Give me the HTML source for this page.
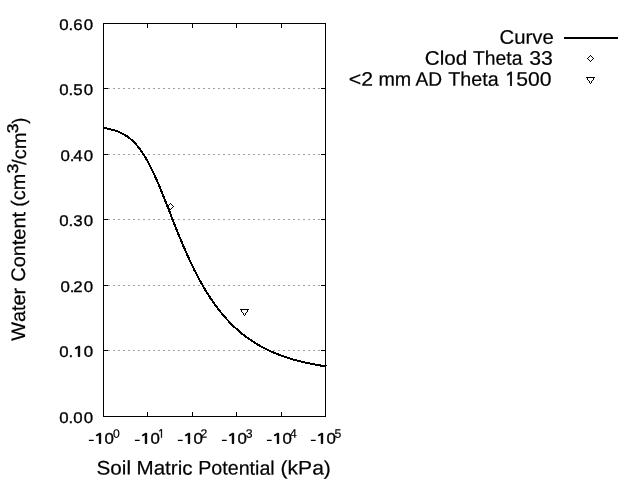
<!DOCTYPE html>
<html lang="en"><head><meta charset="utf-8"><title>Water Retention Curve</title>
<style>html,body{margin:0;padding:0;background:#fff;overflow:hidden}svg{display:block;will-change:transform}text{font-family:"Liberation Sans", Arial, Helvetica, sans-serif;fill:#000;font-kerning:none}</style></head><body>
<svg width="640" height="480" viewBox="0 0 640 480">
<rect width="640" height="480" fill="#fff"/>
<g stroke="#a0a0a0" stroke-width="1" stroke-dasharray="2 3" shape-rendering="crispEdges">
<line x1="103" y1="88.5" x2="326" y2="88.5"/>
<line x1="103" y1="154.5" x2="326" y2="154.5"/>
<line x1="103" y1="219.5" x2="326" y2="219.5"/>
<line x1="103" y1="285.5" x2="326" y2="285.5"/>
<line x1="103" y1="350.5" x2="326" y2="350.5"/>
</g>
<g stroke="#000" stroke-width="1" fill="none" shape-rendering="crispEdges">
<rect x="103.5" y="23.5" width="222" height="393"/>
<line x1="103" y1="23.5" x2="108" y2="23.5"/><line x1="321" y1="23.5" x2="326" y2="23.5"/>
<line x1="103" y1="88.5" x2="108" y2="88.5"/><line x1="321" y1="88.5" x2="326" y2="88.5"/>
<line x1="103" y1="154.5" x2="108" y2="154.5"/><line x1="321" y1="154.5" x2="326" y2="154.5"/>
<line x1="103" y1="219.5" x2="108" y2="219.5"/><line x1="321" y1="219.5" x2="326" y2="219.5"/>
<line x1="103" y1="285.5" x2="108" y2="285.5"/><line x1="321" y1="285.5" x2="326" y2="285.5"/>
<line x1="103" y1="350.5" x2="108" y2="350.5"/><line x1="321" y1="350.5" x2="326" y2="350.5"/>
<line x1="103" y1="416.5" x2="108" y2="416.5"/><line x1="321" y1="416.5" x2="326" y2="416.5"/>
<line x1="103.5" y1="23" x2="103.5" y2="28"/><line x1="103.5" y1="412" x2="103.5" y2="417"/>
<line x1="147.5" y1="23" x2="147.5" y2="28"/><line x1="147.5" y1="412" x2="147.5" y2="417"/>
<line x1="192.5" y1="23" x2="192.5" y2="28"/><line x1="192.5" y1="412" x2="192.5" y2="417"/>
<line x1="236.5" y1="23" x2="236.5" y2="28"/><line x1="236.5" y1="412" x2="236.5" y2="417"/>
<line x1="281.5" y1="23" x2="281.5" y2="28"/><line x1="281.5" y1="412" x2="281.5" y2="417"/>
<line x1="325.5" y1="23" x2="325.5" y2="28"/><line x1="325.5" y1="412" x2="325.5" y2="417"/>
</g>
<polyline points="103.5,127.98 104.5,128.13 105.5,128.30 106.5,128.47 107.5,128.66 108.5,128.86 109.5,129.07 110.5,129.30 111.5,129.55 112.5,129.81 113.5,130.09 114.5,130.39 115.5,130.71 116.5,131.05 117.5,131.42 118.5,131.81 119.5,132.22 120.5,132.66 121.5,133.14 122.5,133.64 123.5,134.18 124.5,134.74 125.5,135.35 126.5,135.99 127.5,136.67 128.5,137.40 129.5,138.16 130.5,138.97 131.5,139.83 132.5,140.74 133.5,141.69 134.5,142.70 135.5,143.76 136.5,144.88 137.5,146.05 138.5,147.28 139.5,148.57 140.5,149.91 141.5,151.32 142.5,152.79 143.5,154.32 144.5,155.92 145.5,157.57 146.5,159.29 147.5,161.07 148.5,162.91 149.5,164.80 150.5,166.76 151.5,168.77 152.5,170.84 153.5,172.95 154.5,175.12 155.5,177.34 156.5,179.60 157.5,181.90 158.5,184.24 159.5,186.62 160.5,189.03 161.5,191.47 162.5,193.93 163.5,196.42 164.5,198.93 165.5,201.45 166.5,203.99 167.5,206.54 168.5,209.09 169.5,211.65 170.5,214.20 171.5,216.76 172.5,219.30 173.5,221.84 174.5,224.37 175.5,226.89 176.5,229.39 177.5,231.88 178.5,234.34 179.5,236.79 180.5,239.21 181.5,241.61 182.5,243.99 183.5,246.34 184.5,248.66 185.5,250.96 186.5,253.22 187.5,255.46 188.5,257.66 189.5,259.84 190.5,261.98 191.5,264.09 192.5,266.17 193.5,268.22 194.5,270.24 195.5,272.22 196.5,274.17 197.5,276.09 198.5,277.98 199.5,279.83 200.5,281.66 201.5,283.45 202.5,285.21 203.5,286.94 204.5,288.63 205.5,290.30 206.5,291.94 207.5,293.55 208.5,295.12 209.5,296.67 210.5,298.19 211.5,299.68 212.5,301.15 213.5,302.58 214.5,303.99 215.5,305.37 216.5,306.73 217.5,308.06 218.5,309.36 219.5,310.64 220.5,311.89 221.5,313.12 222.5,314.33 223.5,315.51 224.5,316.67 225.5,317.80 226.5,318.92 227.5,320.01 228.5,321.08 229.5,322.13 230.5,323.16 231.5,324.17 232.5,325.16 233.5,326.13 234.5,327.08 235.5,328.01 236.5,328.92 237.5,329.81 238.5,330.69 239.5,331.55 240.5,332.39 241.5,333.22 242.5,334.03 243.5,334.82 244.5,335.60 245.5,336.36 246.5,337.11 247.5,337.84 248.5,338.56 249.5,339.26 250.5,339.95 251.5,340.63 252.5,341.29 253.5,341.94 254.5,342.57 255.5,343.19 256.5,343.81 257.5,344.40 258.5,344.99 259.5,345.56 260.5,346.13 261.5,346.68 262.5,347.22 263.5,347.75 264.5,348.27 265.5,348.78 266.5,349.28 267.5,349.77 268.5,350.25 269.5,350.72 270.5,351.18 271.5,351.63 272.5,352.07 273.5,352.50 274.5,352.93 275.5,353.34 276.5,353.75 277.5,354.15 278.5,354.54 279.5,354.92 280.5,355.30 281.5,355.67 282.5,356.03 283.5,356.38 284.5,356.73 285.5,357.07 286.5,357.40 287.5,357.73 288.5,358.05 289.5,358.36 290.5,358.67 291.5,358.97 292.5,359.27 293.5,359.55 294.5,359.84 295.5,360.12 296.5,360.39 297.5,360.65 298.5,360.92 299.5,361.17 300.5,361.42 301.5,361.67 302.5,361.91 303.5,362.15 304.5,362.38 305.5,362.60 306.5,362.83 307.5,363.04 308.5,363.26 309.5,363.47 310.5,363.67 311.5,363.87 312.5,364.07 313.5,364.26 314.5,364.45 315.5,364.64 316.5,364.82 317.5,364.99 318.5,365.17 319.5,365.34 320.5,365.51 321.5,365.67 322.5,365.83 323.5,365.99 324.5,366.14 325.5,366.30 326.5,366.44 326.5,366.44" fill="none" stroke="#000" stroke-width="2" shape-rendering="crispEdges"/>
<g stroke="#000" stroke-width="1" fill="none" shape-rendering="crispEdges">
<polygon points="167.5,206.5 170.5,203.5 173.5,206.5 170.5,209.5"/>
<polygon points="240.5,309.5 248.5,309.5 244.5,315.5"/>
<polygon points="587.5,58.5 590.5,55.5 593.5,58.5 590.5,61.5"/>
<polygon points="586.5,77.5 594.5,77.5 590.5,83.5"/>
</g>
<line x1="564" y1="38" x2="618" y2="38" stroke="#000" stroke-width="2" shape-rendering="crispEdges"/>
<text transform="translate(0,422.85) scale(1.080,1) rotate(0.05)" font-size="15.55" stroke="#000" stroke-width="0.35" x="54.95 63.53 67.77 77.49">0.00</text>
<g><text transform="translate(0,356.85) scale(1.080,1) rotate(0.05)" font-size="15.55" stroke="#000" stroke-width="0.35" x="54.95 63.53">0.</text><text transform="translate(72.73,356.55) scale(1.350,1) rotate(0.05)" style="font-family:NanumGothic,'Liberation Sans',sans-serif" font-size="13.80" stroke="#000" stroke-width="0.80" stroke-linejoin="round">1</text><text transform="translate(83.69,356.85) scale(1.080,1) rotate(0.05)" font-size="15.55" stroke="#000" stroke-width="0.35">0</text></g>
<text transform="translate(0,291.85) scale(1.080,1) rotate(0.05)" font-size="15.55" stroke="#000" stroke-width="0.35" x="55.97 64.55 67.77 77.49">0.20</text>
<text transform="translate(0,225.85) scale(1.080,1) rotate(0.05)" font-size="15.55" stroke="#000" stroke-width="0.35" x="54.95 63.53 67.77 77.49">0.30</text>
<text transform="translate(0,160.85) scale(1.080,1) rotate(0.05)" font-size="15.55" stroke="#000" stroke-width="0.35" x="55.97 64.55 67.77 77.49">0.40</text>
<text transform="translate(0,94.85) scale(1.080,1) rotate(0.05)" font-size="15.55" stroke="#000" stroke-width="0.35" x="54.95 63.53 67.77 77.49">0.50</text>
<text transform="translate(0,29.85) scale(1.080,1) rotate(0.05)" font-size="15.55" stroke="#000" stroke-width="0.35" x="54.95 63.53 67.77 77.49">0.60</text>
<g><text transform="translate(88.02,444.55) scale(1.270,1) rotate(0.05)" font-size="15.55">-</text><text transform="translate(93.73,443.55) scale(1.350,1) rotate(0.05)" style="font-family:NanumGothic,'Liberation Sans',sans-serif" font-size="13.80" stroke="#000" stroke-width="0.80" stroke-linejoin="round">1</text><text transform="translate(104.49,443.85) scale(1.080,1) rotate(0.05)" font-size="15.55" stroke="#000" stroke-width="0.35">0</text><text transform="translate(112.92,437.8) scale(1.00,1) rotate(0.05)" font-size="12.2" stroke="#000" stroke-width="0.2">0</text></g>
<g><text transform="translate(134.02,444.55) scale(1.270,1) rotate(0.05)" font-size="15.55">-</text><text transform="translate(139.73,443.55) scale(1.350,1) rotate(0.05)" style="font-family:NanumGothic,'Liberation Sans',sans-serif" font-size="13.80" stroke="#000" stroke-width="0.80" stroke-linejoin="round">1</text><text transform="translate(150.49,443.85) scale(1.080,1) rotate(0.05)" font-size="15.55" stroke="#000" stroke-width="0.35">0</text><text transform="translate(157.82,437.60) scale(1.000,1) rotate(0.05)" style="font-family:NanumGothic,'Liberation Sans',sans-serif" font-size="11.20" stroke="#000" stroke-width="0.50" stroke-linejoin="round">1</text></g>
<g><text transform="translate(177.02,444.55) scale(1.270,1) rotate(0.05)" font-size="15.55">-</text><text transform="translate(182.73,443.55) scale(1.350,1) rotate(0.05)" style="font-family:NanumGothic,'Liberation Sans',sans-serif" font-size="13.80" stroke="#000" stroke-width="0.80" stroke-linejoin="round">1</text><text transform="translate(193.49,443.85) scale(1.080,1) rotate(0.05)" font-size="15.55" stroke="#000" stroke-width="0.35">0</text><text transform="translate(200.39,437.8) scale(1.00,1) rotate(0.05)" font-size="12.2" stroke="#000" stroke-width="0.2">2</text></g>
<g><text transform="translate(221.02,444.55) scale(1.270,1) rotate(0.05)" font-size="15.55">-</text><text transform="translate(226.73,443.55) scale(1.350,1) rotate(0.05)" style="font-family:NanumGothic,'Liberation Sans',sans-serif" font-size="13.80" stroke="#000" stroke-width="0.80" stroke-linejoin="round">1</text><text transform="translate(237.49,443.85) scale(1.080,1) rotate(0.05)" font-size="15.55" stroke="#000" stroke-width="0.35">0</text><text transform="translate(245.64,437.8) scale(1.00,1) rotate(0.05)" font-size="12.2" stroke="#000" stroke-width="0.2">3</text></g>
<g><text transform="translate(266.02,444.55) scale(1.270,1) rotate(0.05)" font-size="15.55">-</text><text transform="translate(271.73,443.55) scale(1.350,1) rotate(0.05)" style="font-family:NanumGothic,'Liberation Sans',sans-serif" font-size="13.80" stroke="#000" stroke-width="0.80" stroke-linejoin="round">1</text><text transform="translate(282.49,443.85) scale(1.080,1) rotate(0.05)" font-size="15.55" stroke="#000" stroke-width="0.35">0</text><text transform="translate(290.12,437.8) scale(1.00,1) rotate(0.05)" font-size="12.2" stroke="#000" stroke-width="0.2">4</text></g>
<g><text transform="translate(310.02,444.55) scale(1.270,1) rotate(0.05)" font-size="15.55">-</text><text transform="translate(315.73,443.55) scale(1.350,1) rotate(0.05)" style="font-family:NanumGothic,'Liberation Sans',sans-serif" font-size="13.80" stroke="#000" stroke-width="0.80" stroke-linejoin="round">1</text><text transform="translate(326.49,443.85) scale(1.080,1) rotate(0.05)" font-size="15.55" stroke="#000" stroke-width="0.35">0</text><text transform="translate(334.61,437.8) scale(1.00,1) rotate(0.05)" font-size="12.2" stroke="#000" stroke-width="0.2">5</text></g>
<text transform="translate(96.46,474.60) scale(1.0564,1) rotate(0.04)" font-size="19.6" stroke="#000" stroke-width="0.2">Soil</text>
<text transform="translate(136.51,474.60) scale(1.0502,1) rotate(0.04)" font-size="19.6" stroke="#000" stroke-width="0.2">Matric</text>
<text transform="translate(198.18,474.60) scale(1.0047,1) rotate(0.04)" font-size="19.6" stroke="#000" stroke-width="0.2">Potential</text>
<text transform="translate(280.59,474.60) scale(1.0744,1) rotate(0.04)" font-size="19.6" stroke="#000" stroke-width="0.2">(kPa)</text>
<g transform="rotate(-90)">
<text transform="translate(-340.84,25.10) scale(1.0152,1) rotate(0.04)" font-size="19.6" stroke="#000" stroke-width="0.2">Water</text>
<text transform="translate(-281.76,25.10) scale(1.0184,1) rotate(0.04)" font-size="19.6" stroke="#000" stroke-width="0.2">Content</text>
<g><text transform="translate(-206.83,25.10) scale(1.0150,1) rotate(0.04)" font-size="19.6" stroke="#000" stroke-width="0.2">(cm</text><text transform="translate(-173.47,17.90) scale(1.1394,1) rotate(0.04)" font-size="15.55" stroke="#000" stroke-width="0.35">3</text><text transform="translate(-164.90,25.90) scale(1.0238,1) rotate(0.04)" font-size="19.6" stroke="#000" stroke-width="0.2">/cm</text><text transform="translate(-133.37,17.90) scale(1.1258,1) rotate(0.04)" font-size="15.55" stroke="#000" stroke-width="0.35">3</text><text transform="translate(-123.81,25.90) scale(0.9237,1) rotate(0.04)" font-size="19.6" stroke="#000" stroke-width="0.2">)</text></g>
</g>
<text transform="translate(499.57,43.80) scale(1.0374,1) rotate(0.04)" font-size="19.6" stroke="#000" stroke-width="0.2">Curve</text>
<text transform="translate(424.85,64.80) scale(1.0538,1) rotate(0.04)" font-size="19.6" stroke="#000" stroke-width="0.2">Clod</text>
<text transform="translate(473.07,64.80) scale(0.9863,1) rotate(0.04)" font-size="19.6" stroke="#000" stroke-width="0.2">Theta</text>
<text transform="translate(529.19,64.80) scale(1.0845,1) rotate(0.04)" font-size="19.6" stroke="#000" stroke-width="0.2">33</text>
<text transform="translate(348.70,85.80) scale(1.0861,1) rotate(0.04)" font-size="19.6" stroke="#000" stroke-width="0.2">&lt;2</text>
<text transform="translate(378.44,85.80) scale(1.0063,1) rotate(0.04)" font-size="19.6" stroke="#000" stroke-width="0.2">mm</text>
<text transform="translate(415.56,85.80) scale(0.9771,1) rotate(0.04)" font-size="19.6" stroke="#000" stroke-width="0.2">AD</text>
<text transform="translate(448.31,85.80) scale(1.0065,1) rotate(0.04)" font-size="19.6" stroke="#000" stroke-width="0.2">Theta</text>
<g><text transform="translate(504.49,85.55) scale(1.060,1) rotate(0.05)" style="font-family:NanumGothic,'Liberation Sans',sans-serif" font-size="18.30" stroke="#000" stroke-width="0.70" stroke-linejoin="round">1</text><text transform="translate(516.15,85.80) scale(1.0786,1) rotate(0.04)" font-size="19.6" stroke="#000" stroke-width="0.2">500</text></g>
</svg></body></html>
